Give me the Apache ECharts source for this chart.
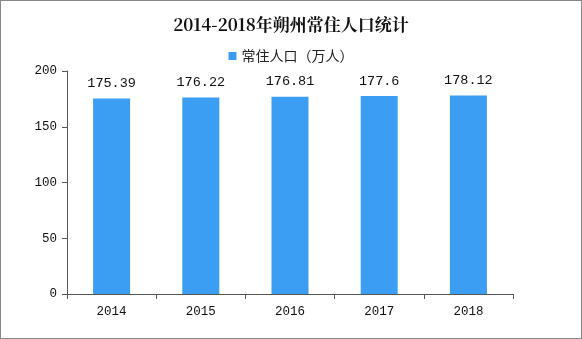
<!DOCTYPE html>
<html><head><meta charset="utf-8">
<script src="https://cdn.jsdelivr.net/npm/echarts@6/dist/echarts.min.js"></script>
<style>html,body{margin:0;padding:0;background:#fff}#c{width:580px;height:337px;border:1px solid #888;}</style>
</head><body><div id="c"></div>
<script>
const categories = ['2014','2015','2016','2017','2018'];
const values = [175.39, 176.22, 176.81, 177.6, 178.12];
const seriesName = '常住人口（万人）';
const titleText = '2014-2018年朔州常住人口统计';
const chart = echarts.init(document.getElementById('c'));
const numFont = '"Liberation Mono","DejaVu Sans Mono",monospace';
chart.setOption({
  animation:false,
  title:{text:titleText,left:'center',top:10,textStyle:{fontSize:17,fontWeight:'bold',color:'#111',fontFamily:'"Noto Serif CJK SC","Noto Sans CJK SC",serif'}},
  legend:{top:43,left:'center',itemWidth:8,itemHeight:8,icon:'rect',itemGap:4,textStyle:{fontSize:14,color:'#222',fontFamily:'"Noto Sans CJK SC",sans-serif'},data:[seriesName]},
  grid:{left:66,right:68,top:70,bottom:44,containLabel:false},
  xAxis:{type:'category',data:categories,axisLine:{lineStyle:{color:'#555'}},axisTick:{show:true,alignWithLabel:false,length:5,lineStyle:{color:'#555'}},axisLabel:{color:'#111',fontSize:12.5,margin:11,fontFamily:numFont}},
  yAxis:{type:'value',min:0,max:200,interval:50,axisLine:{show:true,lineStyle:{color:'#555'}},axisTick:{show:true,length:5,lineStyle:{color:'#555'}},splitLine:{show:false},axisLabel:{color:'#111',fontSize:12.5,margin:10,fontFamily:numFont}},
  series:[{name:seriesName,type:'bar',data:values,barWidth:37,itemStyle:{color:'#3C9EF2'},label:{show:true,position:'top',distance:8,color:'#111',fontSize:13.5,fontFamily:numFont}}]
});
</script></body></html>
